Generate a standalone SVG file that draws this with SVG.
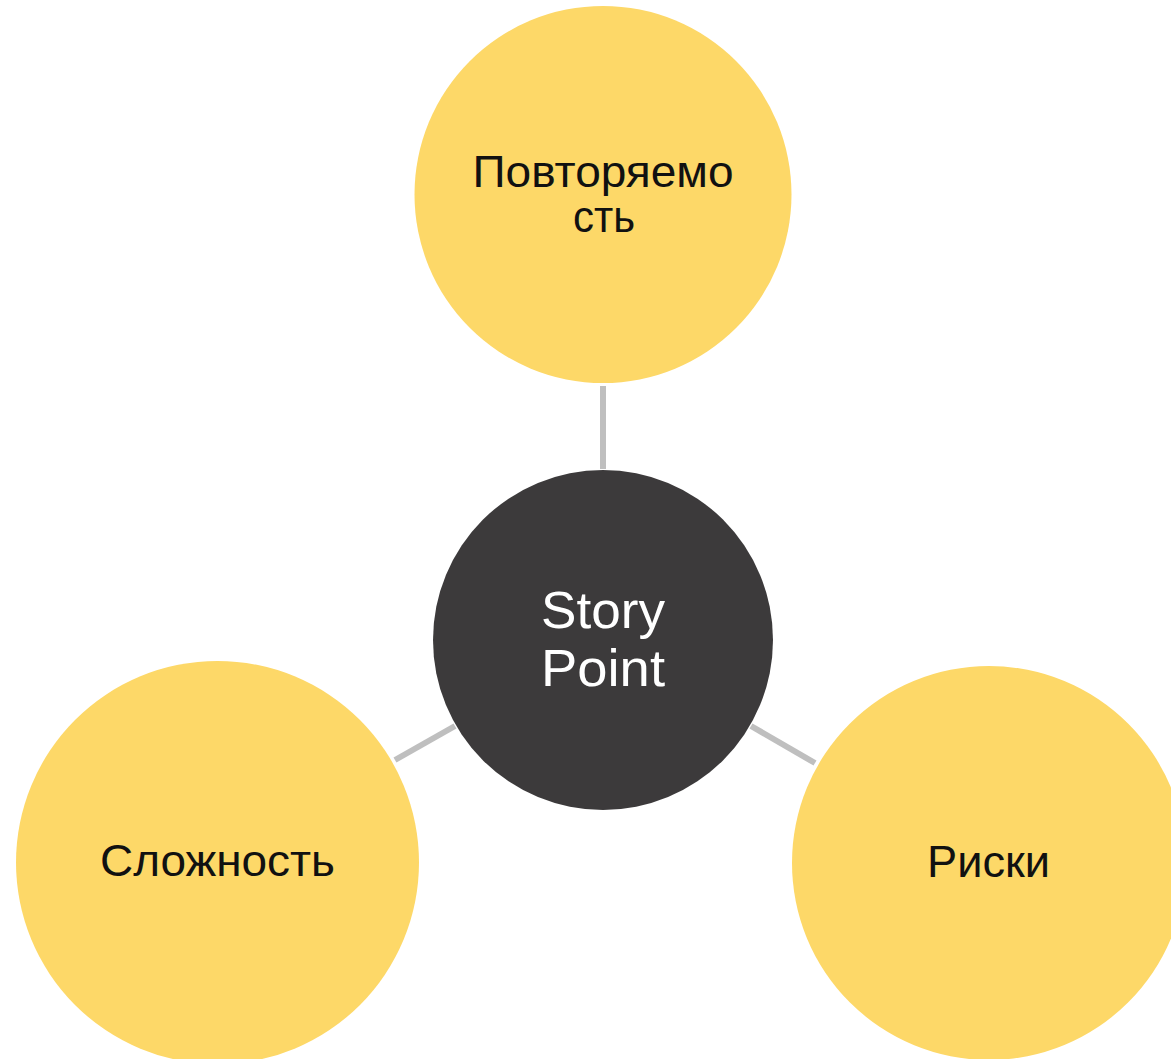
<svg xmlns="http://www.w3.org/2000/svg" width="1171" height="1059" viewBox="0 0 1171 1059">
  <style>
    .petal { fill: #FDD868; }
    .hub { fill: #3C3A3B; }
    .link { stroke: #BFBFBF; stroke-width: 6; fill: none; }
    .lbl { font-family: "Liberation Sans", "DejaVu Sans", sans-serif; font-size: 44px; fill: #111111; text-anchor: middle; }
    .hub-lbl { font-family: "Liberation Sans", "DejaVu Sans", sans-serif; font-size: 52px; fill: #FFFFFF; text-anchor: middle; }
  </style>
  <rect width="1171" height="1059" fill="#FFFFFF"/>

  <!-- connectors between the hub and the three factors -->
  <g id="connectors">
    <line class="link" x1="603" y1="386" x2="603" y2="469"/>
    <line class="link" x1="395" y1="760" x2="455" y2="726"/>
    <line class="link" x1="751" y1="726" x2="815" y2="763"/>
  </g>

  <g id="node-repeatability">
    <circle class="petal" cx="603" cy="194.5" r="188.5"/>
    <text class="lbl" x="603" y="187" textLength="261" lengthAdjust="spacingAndGlyphs">Повторяемо</text>
    <text class="lbl" x="604" y="232" textLength="62" lengthAdjust="spacingAndGlyphs">сть</text>
  </g>

  <g id="node-story-point">
    <circle class="hub" cx="603" cy="640" r="170"/>
    <text class="hub-lbl" x="603" y="628" textLength="124" lengthAdjust="spacingAndGlyphs">Story</text>
    <text class="hub-lbl" x="603" y="686" textLength="124" lengthAdjust="spacingAndGlyphs">Point</text>
  </g>

  <g id="node-complexity">
    <circle class="petal" cx="217.5" cy="862.5" r="201.5"/>
    <text class="lbl" x="217.5" y="876" textLength="235" lengthAdjust="spacingAndGlyphs">Сложность</text>
  </g>

  <g id="node-risks">
    <circle class="petal" cx="989" cy="863" r="197"/>
    <text class="lbl" x="988.5" y="877" textLength="123" lengthAdjust="spacingAndGlyphs">Риски</text>
  </g>
</svg>
